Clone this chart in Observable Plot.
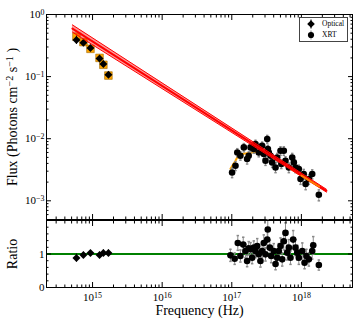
<!DOCTYPE html>
<html><head><meta charset="utf-8">
<script src="https://cdn.jsdelivr.net/npm/d3@7"></script>
<script src="https://cdn.jsdelivr.net/npm/@observablehq/plot@0.6"></script>
<style>
body{margin:0;background:#fff;}
#fig{position:relative;width:360px;height:324px;font-family:"Liberation Serif",serif;}
#fig svg{position:absolute;left:0;top:0;}
#legend{position:absolute;left:299px;top:17px;width:47px;height:23px;border:1px solid #444;background:#fff;font-family:"Liberation Serif",serif;font-size:7.5px;color:#000;}
#legend .row{position:absolute;left:0;height:10px;line-height:10px;}
#legend svg{position:absolute;left:6px;top:0;}
#legend span{position:absolute;left:22px;white-space:nowrap;color:#000;}
</style></head><body>
<div id="fig">
  <div id="legend">
    <div class="row" style="top:1px;width:47px;"><svg width="10" height="10"><line x1="5" y1="0.5" x2="5" y2="9.5" stroke="#000"/><path d="M5 1.2L8.8 5L5 8.8L1.2 5Z" fill="#000"/></svg><span>Optical</span></div>
    <div class="row" style="top:12px;width:47px;"><svg width="10" height="10"><line x1="5" y1="0.5" x2="5" y2="9.5" stroke="#777"/><circle cx="5" cy="5" r="3.1" fill="#000"/></svg><span>XRT</span></div>
  </div>
</div>
<script>
// ---------- data ----------
// Optical (UVOT) points
const optNu      = [5.87e14, 7.39e14, 9.33e14, 1.26e15, 1.43e15, 1.69e15];
const optNuLo    = [5.5e14, 7.0e14, 8.8e14, 1.18e15, 1.36e15, 1.55e15];
const optNuHi    = [6.2e14, 7.8e14, 9.9e14, 1.34e15, 1.51e15, 1.84e15];
const optFlux    = [0.39, 0.35, 0.29, 0.195, 0.16, 0.107];
const optErr     = [0.06, 0.03, 0.025, 0.018, 0.015, 0.01];
const optModel   = [0.44, 0.36, 0.28, 0.20, 0.155, 0.104];
const optRatio   = [0.88, 0.97, 1.03, 0.97, 1.03, 1.03];
const optRatioErr= [0.12, 0.08, 0.07, 0.08, 0.09, 0.09];

// XRT spectrum points (flux panel)
const xrtNu   = [1.01e17,1.13e17,1.20e17,1.33e17,1.49e17,1.66e17,1.75e17,1.86e17,2.07e17,2.19e17,
                 2.44e17,2.58e17,2.73e17,2.88e17,3.05e17,3.23e17,3.30e17,3.40e17,3.60e17,3.80e17,
                 4.25e17,4.49e17,5.01e17,5.15e17,5.59e17,5.91e17,6.60e17,7.38e17,7.78e17,8.23e17,
                 9.18e17,9.71e17,1.08e18,1.15e18,1.28e18,1.43e18,1.78e18];
const xrtFlux = [2.86e-3,3.67e-3,6.01e-3,5.32e-3,7.24e-3,4.71e-3,5.32e-3,7.24e-3,6.82e-3,8.22e-3,
                 6.01e-3,7.24e-3,7.71e-3,5.66e-3,4.42e-3,9.89e-3,6.82e-3,6.01e-3,5.32e-3,4.15e-3,
                 3.44e-3,4.99e-3,6.40e-3,3.91e-3,6.40e-3,4.42e-3,3.44e-3,4.99e-3,4.15e-3,3.44e-3,
                 3.24e-3,2.24e-3,2.70e-3,1.86e-3,2.24e-3,2.70e-3,1.25e-3];
const xrtErr  = [0.5e-3,0.6e-3,0.9e-3,0.8e-3,1.1e-3,0.8e-3,0.8e-3,1.1e-3,1.0e-3,1.2e-3,
                 0.9e-3,1.1e-3,1.1e-3,0.9e-3,0.7e-3,1.4e-3,1.0e-3,0.9e-3,0.8e-3,0.7e-3,
                 0.6e-3,0.8e-3,1.0e-3,0.6e-3,1.0e-3,0.7e-3,0.6e-3,0.8e-3,0.7e-3,0.6e-3,
                 0.5e-3,0.4e-3,0.5e-3,0.35e-3,0.4e-3,0.45e-3,0.25e-3];

// XRT ratio points
const ratioNu  = [9.57e16,1.10e17,1.22e17,1.33e17,1.46e17,1.57e17,1.66e17,1.75e17,1.86e17,1.96e17,
                  2.07e17,2.19e17,2.32e17,2.44e17,2.58e17,2.73e17,2.88e17,3.05e17,3.23e17,3.29e17,
                  3.52e17,3.68e17,4.01e17,4.25e17,4.49e17,4.73e17,5.01e17,5.30e17,5.59e17,5.91e17,
                  6.25e17,6.60e17,6.97e17,7.62e17,8.23e17,8.71e17,9.18e17,1.03e18,1.11e18,1.18e18,
                  1.28e18,1.43e18,1.48e18,1.78e18];
const ratioVal = [0.96,0.86,1.33,0.94,1.28,1.09,0.79,1.17,1.14,0.89,
                  1.19,1.09,1.24,0.99,0.79,1.09,1.33,0.99,1.43,1.73,
                  1.19,0.94,1.09,0.70,0.89,1.09,1.24,0.84,1.38,1.63,
                  1.04,1.19,0.89,1.43,1.19,1.04,0.89,1.09,0.74,0.94,
                  0.84,1.09,1.26,0.67];
const ratioErr = [0.18,0.17,0.22,0.18,0.22,0.20,0.17,0.20,0.20,0.18,
                  0.20,0.20,0.22,0.20,0.18,0.20,0.24,0.20,0.25,0.28,
                  0.22,0.20,0.22,0.17,0.20,0.22,0.24,0.20,0.26,0.30,
                  0.22,0.24,0.20,0.27,0.24,0.22,0.20,0.24,0.18,0.20,
                  0.20,0.24,0.26,0.15];

// Power-law model (red) with uncertainty band
const plNu  = [5.14e14, 2.29e18];
const plMid = [0.594, 1.45e-3];
const plLo  = [0.52, 1.38e-3];
const plHi  = [0.68, 1.53e-3];

// Absorbed / folded model in the XRT band (orange)
const foldNu   = [9.57e16,1.13e17,1.25e17,1.47e17,1.86e17,2.42e17,3.2e17,1.0e18,1.8e18];
const foldFlux = [3.28e-3,4.42e-3,5.52e-3,5.73e-3,5.94e-3,6.3e-3,5.8e-3,2.55e-3,1.70e-3];

// axis settings
const xDomain = [2.18e14, 5.42e18];
const yDomain = [5e-4, 1];
const rDomain = [0, 2];
const majorX = [1e15, 1e16, 1e17, 1e18];
const majorY = [1e-3, 1e-2, 1e-1, 1];
const majorR = [0, 1, 2];
const minorR = [0.2,0.4,0.6,0.8,1.2,1.4,1.6,1.8];

// ---------- build rows ----------
const opt = optNu.map((nu,i)=>({nu, f:optFlux[i], lo:optFlux[i]-optErr[i], hi:optFlux[i]+optErr[i],
  nlo:optNuLo[i], nhi:optNuHi[i], m:optModel[i], r:optRatio[i], rlo:optRatio[i]-optRatioErr[i], rhi:optRatio[i]+optRatioErr[i]}));
const xrt = xrtNu.map((nu,i)=>({nu, f:xrtFlux[i], lo:xrtFlux[i]-xrtErr[i], hi:xrtFlux[i]+xrtErr[i]}));
const rat = ratioNu.map((nu,i)=>({nu, r:ratioVal[i], lo:ratioVal[i]-ratioErr[i], hi:ratioVal[i]+ratioErr[i]}));
const pl = plNu.map((nu,i)=>({nu, mid:plMid[i], lo:plLo[i], hi:plHi[i]}));
const fold = foldNu.map((nu,i)=>({nu, f:foldFlux[i]}));

const minorX = []; for (let e=14;e<=18;e++) for (let k=2;k<=9;k++){const v=k*Math.pow(10,e); if (v>xDomain[0]&&v<xDomain[1]) minorX.push(v);}
const minorY = []; for (let e=-4;e<=-1;e++) for (let k=2;k<=9;k++){const v=k*Math.pow(10,e); if (v>=yDomain[0]&&v<1) minorY.push(v);}

const expFmt = d => { const e = Math.round(Math.log10(d)); return "10^{" + (e<0 ? "\u2212"+(-e) : e) + "}"; };
const ax = (fn, vals, anchor, size, extra={}) => fn(vals, {anchor, tickSize:size, tickFormat:()=>"", label:null, stroke:"black", ...extra});
const capSym = {draw(c, s){ const w = Math.sqrt(s)/2; c.moveTo(-w,0); c.lineTo(w,0); }};
const errGrey = "#8a8a8a";
const font = "'Liberation Serif', serif";

const W = 360, H = 324;
const topPlot = Plot.plot({
  width:W, height:H, marginLeft:46, marginRight:8, marginTop:14, marginBottom:105,
  style:{fontFamily:font, fontSize:"11px", background:"none", overflow:"visible"},
  x:{type:"log", domain:xDomain, label:null},
  y:{type:"log", domain:yDomain, label:null},
  marks:[
    Plot.line(fold, {x:"nu", y:"f", stroke:"orange", strokeWidth:2}),
    Plot.ruleX(xrt, {x:"nu", y1:"lo", y2:"hi", stroke:errGrey, strokeWidth:1}),
    Plot.dot(xrt, {x:"nu", y:"hi", symbol:capSym, r:1.4, stroke:errGrey, fill:"none"}),
    Plot.dot(xrt, {x:"nu", y:"lo", symbol:capSym, r:1.4, stroke:errGrey, fill:"none"}),
    Plot.dot(xrt, {x:"nu", y:"f", r:3.3, fill:"black"}),
    Plot.dot(opt, {x:"nu", y:"m", symbol:"square", r:4.3, fill:"orange", stroke:"#a06800", strokeWidth:0.6}),
    Plot.ruleX(opt, {x:"nu", y1:"lo", y2:"hi", stroke:"black", strokeWidth:1}),
    Plot.ruleY(opt, {y:"f", x1:"nlo", x2:"nhi", stroke:"black", strokeWidth:1}),
    Plot.dot(opt, {x:"nu", y:"f", symbol:"diamond2", r:3.6, fill:"black"}),
    Plot.areaY(pl, {x:"nu", y1:"lo", y2:"hi", fill:"red", fillOpacity:0.4}),
    Plot.line(pl, {x:"nu", y:"lo", stroke:"red", strokeWidth:1}),
    Plot.line(pl, {x:"nu", y:"hi", stroke:"red", strokeWidth:1}),
    Plot.line(pl, {x:"nu", y:"mid", stroke:"red", strokeWidth:2}),
    Plot.line(fold.filter(d=>d.nu>=1e18), {x:"nu", y:"f", stroke:"orange", strokeWidth:2, strokeOpacity:0.75}),
    Plot.frame({stroke:"black"}),
    ax(Plot.axisX, majorX, "bottom", -5), ax(Plot.axisX, minorX, "bottom", -2.5),
    ax(Plot.axisX, majorX, "top", -5), ax(Plot.axisX, minorX, "top", -2.5),
    ax(Plot.axisY, majorY, "left", -5, {tickFormat:expFmt, tickPadding:7, fontSize:11}),
    ax(Plot.axisY, minorY, "left", -2.5),
    ax(Plot.axisY, majorY, "right", -5), ax(Plot.axisY, minorY, "right", -2.5),
    Plot.text(["Flux (Photons cm^{\u22122} s^{\u22121} )"], {frameAnchor:"left", textAnchor:"middle", lineAnchor:"middle", rotate:-90, dx:-34, fontSize:14})
  ]
});

const botPlot = Plot.plot({
  width:W, height:H, marginLeft:46, marginRight:8, marginTop:220, marginBottom:37,
  style:{fontFamily:font, fontSize:"11px", background:"none", overflow:"visible"},
  x:{type:"log", domain:xDomain, label:null},
  y:{domain:rDomain, label:null},
  marks:[
    Plot.ruleY([1], {stroke:"#008000", strokeWidth:2}),
    Plot.ruleX(rat, {x:"nu", y1:"lo", y2:"hi", stroke:errGrey, strokeWidth:1}),
    Plot.dot(rat, {x:"nu", y:"hi", symbol:capSym, r:1.4, stroke:errGrey, fill:"none"}),
    Plot.dot(rat, {x:"nu", y:"lo", symbol:capSym, r:1.4, stroke:errGrey, fill:"none"}),
    Plot.dot(rat, {x:"nu", y:"r", r:3.3, fill:"black"}),
    Plot.ruleX(opt, {x:"nu", y1:"rlo", y2:"rhi", stroke:"black", strokeWidth:1}),
    Plot.ruleY(opt, {y:"r", x1:"nlo", x2:"nhi", stroke:"black", strokeWidth:1}),
    Plot.dot(opt, {x:"nu", y:"r", symbol:"diamond2", r:3.6, fill:"black"}),
    Plot.frame({stroke:"black"}),
    ax(Plot.axisX, majorX, "bottom", -5, {tickFormat:expFmt, tickPadding:11, fontSize:11}),
    ax(Plot.axisX, minorX, "bottom", -2.5),
    ax(Plot.axisX, majorX, "top", -5), ax(Plot.axisX, minorX, "top", -2.5),
    ax(Plot.axisY, majorR, "left", -5, {tickFormat:d => d===2 ? "" : String(d), tickPadding:7, fontSize:11}),
    ax(Plot.axisY, minorR, "left", -2.5),
    ax(Plot.axisY, majorR, "right", -5), ax(Plot.axisY, minorR, "right", -2.5),
    Plot.text(["Ratio"], {frameAnchor:"left", textAnchor:"middle", lineAnchor:"middle", rotate:-90, dx:-34, fontSize:14}),
    Plot.text(["Frequency (Hz)"], {frameAnchor:"bottom", textAnchor:"middle", lineAnchor:"middle", dy:23, fontSize:14})
  ]
});

function supify(svg){
  svg.querySelectorAll("text").forEach(t=>{
    const s = t.textContent; if (!s.includes("^{")) return;
    const parts = s.split(/(\^\{[^}]*\})/);
    t.textContent = "";
    let up = false;
    for (const p of parts){
      if (!p) continue;
      const ts = document.createElementNS("http://www.w3.org/2000/svg","tspan");
      if (p.startsWith("^{")) { ts.textContent = p.slice(2,-1); ts.setAttribute("dy","-0.42em"); ts.setAttribute("font-size","0.72em"); up = true; }
      else { ts.textContent = p; if (up) { ts.setAttribute("dy","0.3em"); up = false; } }
      t.appendChild(ts);
    }
  });
}
const fig = document.getElementById("fig");
fig.insertBefore(botPlot, fig.firstChild);
fig.insertBefore(topPlot, fig.firstChild);
supify(topPlot); supify(botPlot);
</script>
</body></html>
